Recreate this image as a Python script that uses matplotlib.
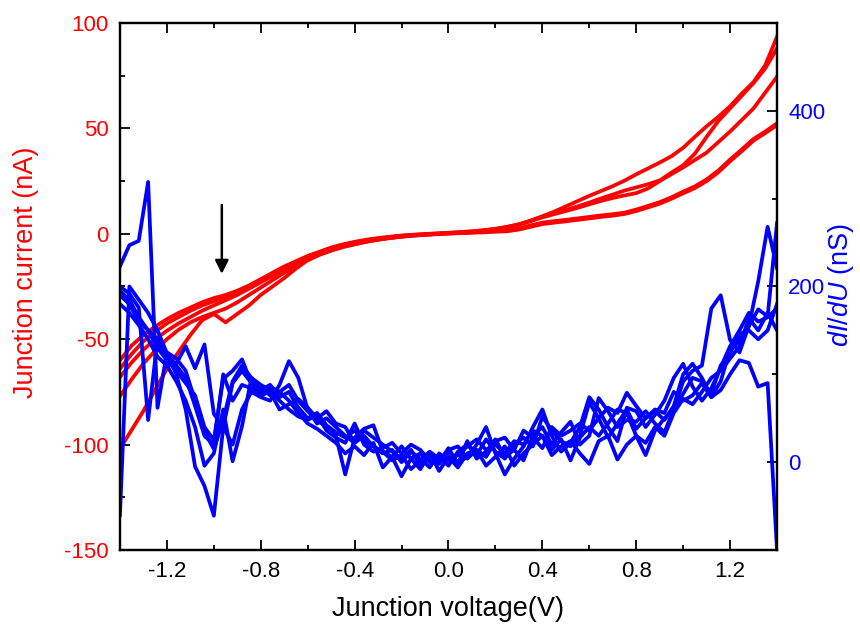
import numpy as np
import matplotlib
matplotlib.use("Agg")
import matplotlib.pyplot as plt
from matplotlib.ticker import MultipleLocator

plt.rcParams['font.family'] = ['Liberation Sans', 'DejaVu Sans']
plt.rcParams['mathtext.fontset'] = 'custom'
plt.rcParams['mathtext.rm'] = 'Liberation Sans'
plt.rcParams['mathtext.it'] = 'Liberation Sans:italic'
plt.rcParams['axes.unicode_minus'] = False

# ---- I-V sweeps (nA), sampled every 50 mV from -1.40 V to 1.40 V ----
v_iv = np.round(np.arange(-1.40, 1.4001, 0.05), 3)

iv_sweep_1 = [-60, -53, -48, -44, -40.5, -37.5, -35, -32.5, -30.5, -29, -27, -24.5, -21.5, -18.5,
              -15.5, -13, -10.5, -8.5, -6.5, -5, -3.8, -2.8, -2, -1.4, -0.8, -0.4, -0.1, 0.2, 0.5,
              0.8, 1.2, 1.7, 2.4, 3.3, 4.5, 6.2, 8.3, 10.5, 13, 15.5, 18, 20.3, 22.6, 25.2, 28.2,
              31, 33.8, 36.8, 40.8, 46, 51, 55.5, 60.5, 66.5, 72, 80, 93.5]
iv_sweep_2 = [-64, -57, -51, -46.5, -42.5, -39.5, -36.5, -34, -32, -30, -28, -25.5, -22.5, -19,
              -16, -13.5, -11, -9, -7, -5.5, -4.2, -3, -2.3, -1.6, -1, -0.6, -0.2, 0.1, 0.4,
              0.7, 1.1, 1.6, 2.3, 3.2, 4.5, 6.2, 8.2, 9.8, 11.3, 13, 14.8, 16.8, 18.6, 20.5, 22,
              23.5, 25.3, 29, 32.5, 38, 46, 53.5, 59.5, 65.5, 71.5, 78.5, 88]
iv_sweep_3 = [-68, -61, -55, -50, -46, -42.5, -39.5, -36.5, -34, -31.5, -29, -26, -23, -20,
              -17, -14.5, -12, -9.8, -7.8, -6, -4.6, -3.4, -2.6, -1.9, -1.3, -0.8, -0.4, -0.1, 0.2,
              0.5, 0.9, 1.4, 2.1, 3.0, 4.3, 6.0, 7.8, 9.3, 10.8, 12.3, 14, 15.6, 17, 18.2, 19.3,
              21.5, 25, 28.3, 31.5, 35, 38.5, 43.5, 48.5, 54, 59.5, 67, 74.5]
iv_sweep_4 = [-77, -69, -61.5, -55.5, -50, -45.5, -42, -39.5, -37.5, -35.5, -32.5, -29, -25.5, -22,
              -18.5, -15.5, -12.5, -10, -8, -6.3, -5, -3.8, -2.8, -2, -1.3, -0.8, -0.4, -0.1, 0.2,
              0.5, 0.7, 1.0, 1.3, 1.6, 2.6, 4.0, 5.3, 6.0, 6.6, 7.3, 8.0, 8.7, 9.3, 10.0, 11.5,
              13.2, 15, 17.3, 20, 22.5, 25.8, 30, 35.2, 40, 45, 48.5, 52.4]
iv_sweep_5 = [-102, -93, -84, -74, -64, -56, -48, -41, -38, -42, -38, -34, -29, -25,
              -21, -16.5, -12.5, -9.8, -7.8, -6.2, -4.9, -3.7, -2.8, -2, -1.4, -0.9, -0.5, -0.2, 0.1,
              0.3, 0.5, 0.7, 1.0, 1.2, 2.0, 3.3, 4.6, 5.3, 5.9, 6.6, 7.3, 8.0, 8.6, 9.4, 10.8,
              12.5, 14.3, 16.6, 19.2, 21.7, 25.0, 29.2, 34.4, 39.2, 44.2, 47.8, 51.5]

# ---- differential conductance dI/dU (nS), sampled every 40 mV ----
v_didv = np.round(np.arange(-1.40, 1.4001, 0.04), 3)

didv_1 = [223, 247, 252, 319, 62, 125, 118, 104, 70, 35, 15,
          48, 92, 110, 96, 82, 88, 74, 80, 62, 50,
          56, 42, 34, 28, 36, 24, 18, 12, 6, 18,
          4, 10, 0, 6, -4, 12, 20, 8, 26, 12,
          4, 20, 28, 18, 52, 36, 24, 18, 30, 68,
          50, 28, 44, 60, 38, 50, 58, 48, 64, 100,
          112, 96, 74, 92, 128, 138, 155, 174, 166, 272]
didv_2 = [200, 192, 176, 48, 140, 122, 110, 96, 64, 30, 20,
          100, 70, 88, 84, 78, 86, 80, 88, 70, 58,
          48, 40, 30, -14, 28, 38, 42, 12, 2, 8,
          -8, 2, 12, 4, 10, 0, 6, 20, 40, 10,
          -14, 4, 18, 40, 60, 30, 12, 22, 40, 74,
          60, 40, 24, 62, 58, 40, 54, 70, 96, 112,
          86, 70, 84, 108, 132, 150, 170, 160, 165, 175]
didv_3 = [190, 180, 160, 150, 140, 118, 112, 132, 107, 134, 55,
          40, 20, 60, 80, 74, 70, 88, 115, 96, 60,
          44, 50, 40, 30, 22, 30, 18, 10, 14, 0,
          12, 4, -6, 10, 2, 8, 18, 26, 14, 20,
          10, 24, 20, 36, 30, 14, 26, 2, 28, 40,
          30, 44, 60, 56, 30, 8, 36, 50, 60, 78,
          96, 92, 78, 110, 124, 146, 150, 140, 150, 180]
didv_4 = [-60, 200, 185, 170, 150, 124, 100, 60, -5, -27, -61,
          40, 90, 104, 90, 86, 76, 80, 70, 56, 44,
          38, 30, 22, 10, 18, 8, 22, -6, 6, -16,
          4, -8, 10, -10, 6, -6, 10, 14, -4, 6,
          18, -4, 10, 20, 30, 8, 18, 24, 10, -2,
          24, 30, 3, 20, 30, 22, 40, 30, 56, 72,
          66, 80, 96, 104, 118, 132, 164, 150, 170, 150]
didv_5 = [180, 170, 156, 140, 120, 110, 92, 70, 40, -4, 10,
          60, 1, 41, 96, 88, 82, 70, 60, 52, 48,
          54, 36, 28, 22, 44, 20, 12, 16, 22, 10,
          20, 14, 2, -2, 14, 18, 4, 14, 6, 24,
          28, 14, 2, 30, 40, 20, 34, 46, 20, 30,
          73, 58, 40, 48, 46, 58, 44, 34, 60, 92,
          104, 110, 175, 190, 139, 125, 155, 206, 268, 221]
didv_6 = [195, 185, 165, 150, 130, 116, 104, 90, 76, 40, 25,
          95, 104, 117, 90, 76, 80, 60, 66, 72, 62,
          50, 58, 44, 40, 22, 36, 28, 20, 12, 4,
          14, -4, 8, 0, 16, -2, 24, 4, 12, 26,
          6, 14, 36, 28, 16, 40, 30, 36, 44, 36,
          50, 62, 56, 79, 64, 50, 60, 56, 80, 70,
          76, 90, 74, 82, 100, 116, 113, 86, 90, -100]

x_ticks = [-1.2, -0.8, -0.4, 0.0, 0.4, 0.8, 1.2]
x_ticklabels = ["-1.2", "-0.8", "-0.4", "0.0", "0.4", "0.8", "1.2"]
left_ticks = [-150, -100, -50, 0, 50, 100]
right_ticks = [0, 200, 400]

# arrow marking the kink in the negative branch
arrow_v = -0.966
arrow_from, arrow_to = 13.7, -19.0

RED = '#FF0000'
BLUE = '#0000FF'
LW = 2.7

fig = plt.figure(figsize=(8.6, 6.28), dpi=100)
ax = fig.add_axes([0.1395, 0.1242, 0.7640, 0.8392])
ax2 = ax.twinx()

for sweep in (iv_sweep_1, iv_sweep_2, iv_sweep_3, iv_sweep_4, iv_sweep_5):
    ax.plot(v_iv, sweep, color=RED, lw=LW, solid_joinstyle='round')

for g in (didv_1, didv_2, didv_3, didv_4, didv_5, didv_6):
    ax2.plot(v_didv, g, color=BLUE, lw=LW, solid_joinstyle='round')

ax.annotate('', xy=(arrow_v, arrow_to), xytext=(arrow_v, arrow_from),
            arrowprops=dict(arrowstyle='-|>', color='black', lw=1.8,
                            mutation_scale=20, shrinkA=0, shrinkB=0))

ax.set_xlim(-1.4, 1.4)
ax.set_ylim(-150, 100)
ax2.set_ylim(-100, 500)

ax.set_xticks(x_ticks)
ax.set_xticklabels(x_ticklabels)
ax.xaxis.set_minor_locator(MultipleLocator(0.2))
ax.set_yticks(left_ticks)
ax.yaxis.set_minor_locator(MultipleLocator(25))
ax2.set_yticks(right_ticks)
ax2.yaxis.set_minor_locator(MultipleLocator(100))

for spine in ax.spines.values():
    spine.set_linewidth(1.6)
for spine in ax2.spines.values():
    spine.set_linewidth(1.6)

ax.tick_params(axis='x', which='both', direction='in', top=True, bottom=True,
               labelsize=16, colors='black', pad=8)
ax.tick_params(axis='y', which='both', direction='in', right=False,
               labelsize=16, labelcolor=RED, color='black', pad=8)
ax2.tick_params(axis='y', which='both', direction='in', labelsize=16,
                labelcolor=BLUE, color='black', pad=8)
for a in (ax, ax2):
    a.tick_params(which='major', length=7, width=1.3)
    a.tick_params(which='minor', length=3.5, width=1.3)

ax.set_xlabel('Junction voltage(V)', fontsize=19.5, color='black')
ax.xaxis.set_label_coords(0.5, -0.088)
ax.set_ylabel('Junction current (nA)', fontsize=19.5, color=RED)
ax.yaxis.set_label_coords(-0.123, 0.526)
ax2.set_ylabel(r'$\mathit{dI/dU}$ (nS)', fontsize=19.5, color=BLUE)
ax2.yaxis.set_label_coords(1.074, 0.503)

fig.savefig('out.png', dpi=100)
